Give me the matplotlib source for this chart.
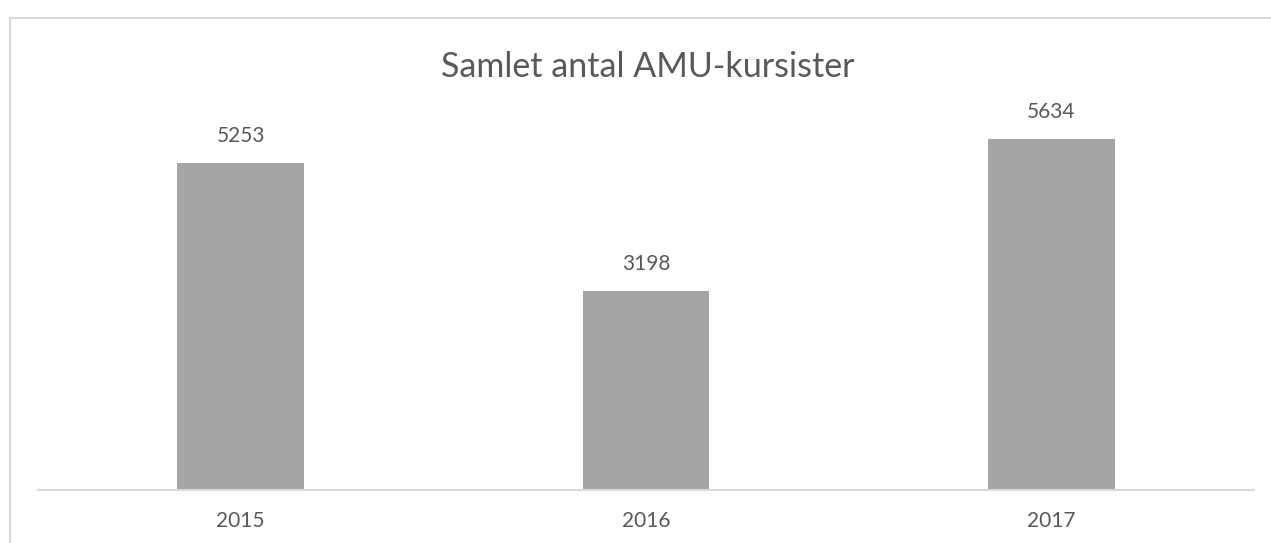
import matplotlib
matplotlib.use("Agg")
import matplotlib.pyplot as plt
from matplotlib.lines import Line2D

years = ["2015", "2016", "2017"]
participants = [5253, 3198, 5634]
title = "Samlet antal AMU-kursister"

bar_color = "#A5A5A5"
text_color = "#595959"
line_color = "#D9D9D9"

plt.rcParams["font.family"] = ["Lato", "DejaVu Sans"]

W, H = 1271, 543
fig = plt.figure(figsize=(W / 100, H / 100), dpi=100)

# chart frame (top and left edges visible)
fig.add_artist(Line2D([9.5 / W, 9.5 / W], [0, 1 - 18 / H], transform=fig.transFigure,
                      color=line_color, lw=1.5))
fig.add_artist(Line2D([9.5 / W, 1], [1 - 18 / H, 1 - 18 / H], transform=fig.transFigure,
                      color=line_color, lw=1.5))

# plot area: x 38..1254 px, baseline at y=490, 6000 at y=116
left, right = 38 / W, 1254 / W
bottom, top = 1 - 490 / H, 1 - 116 / H
ax = fig.add_axes([left, bottom, right - left, top - bottom])

x = range(len(years))
bars = ax.bar(x, participants, width=0.313, color=bar_color, zorder=2)
ax.set_xlim(-0.5, len(years) - 0.5)
ax.set_ylim(0, 6000)

for rect, v in zip(bars, participants):
    ax.annotate(f"{v}", (rect.get_x() + rect.get_width() / 2, v),
                xytext=(0, 19), textcoords="offset points", ha="center", va="center",
                fontsize=15, color=text_color)

for s in ["top", "right", "left"]:
    ax.spines[s].set_visible(False)
ax.spines["bottom"].set_color(line_color)
ax.spines["bottom"].set_linewidth(1.5)
ax.set_yticks([])
ax.set_xticks(list(x))
ax.set_xticklabels(years, fontsize=15, color=text_color)
ax.tick_params(axis="x", length=0, pad=15)

fig.text(0.5 * (left + right) + 2 / W, 1 - 67 / H, title, ha="center", va="center",
         fontsize=24.5, color=text_color)

fig.savefig("out.png", dpi=100, facecolor="white")
